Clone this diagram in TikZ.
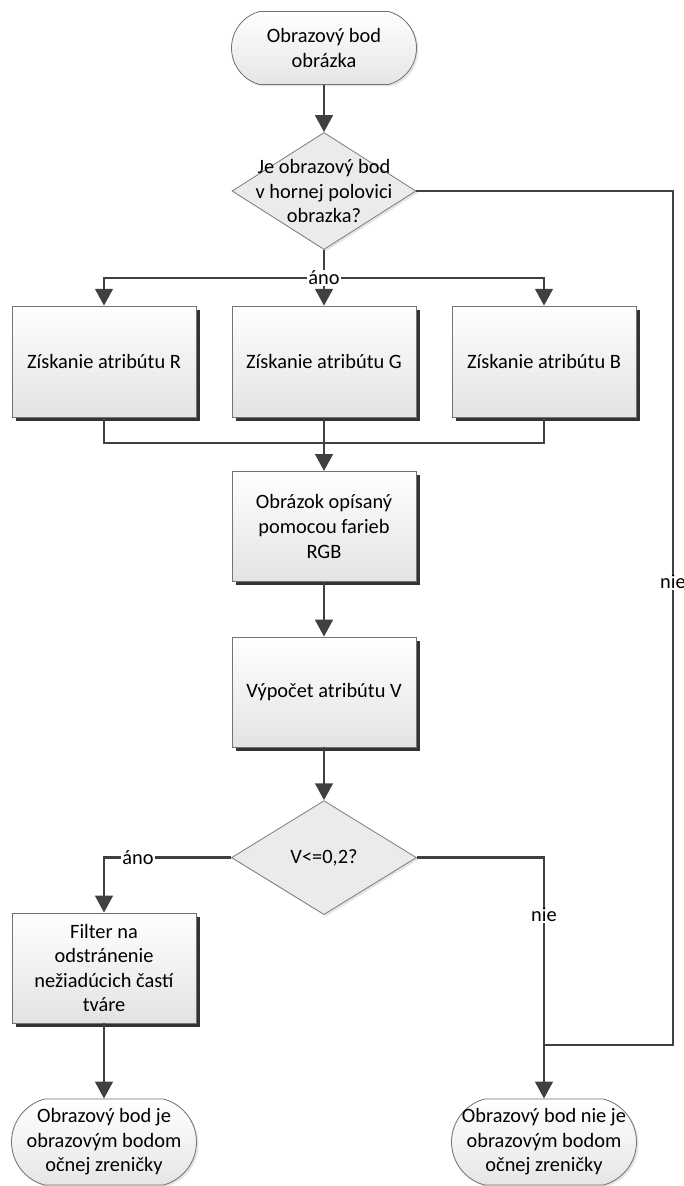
\documentclass[tikz,border=0pt]{standalone}
\usepackage{fontspec}
\setmainfont{Carlito}
\usetikzlibrary{shapes.geometric,shapes.misc,shadows,arrows.meta}

\begin{document}
\begin{tikzpicture}[font=\fontsize{14.5}{17.5}\selectfont,
    ciara/.style={draw=black!75, line width=1.85pt},
    sipka/.style={ciara, -{Triangle[length=12pt,width=12.5pt]}},
    blok/.style={rectangle, draw=black!55, line width=0.6pt, top color=white, bottom color=black!11,
      minimum width=4.6cm, minimum height=2.75cm, align=center, inner sep=2pt,
      drop shadow={shadow xshift=0.1cm, shadow yshift=-0.1cm, fill=black!80, opacity=1}},
    rozhod/.style={diamond, draw=black!50, line width=0.6pt, fill=black!8, inner sep=0pt,
      minimum width=4.6cm, minimum height=2.85cm,
      drop shadow={shadow xshift=0.05cm, shadow yshift=-0.05cm, fill=black!10, opacity=1}},
    terminal/.style={rounded rectangle, rounded rectangle arc length=150, draw=black!55, line width=0.6pt,
      top color=white, bottom color=black!10, inner sep=0pt, minimum width=4.625cm,
      drop shadow={shadow xshift=0.05cm, shadow yshift=-0.05cm, fill=black!10, opacity=1}},
    napis/.style={align=center, inner sep=0pt},
    popisok/.style={fill=white, inner sep=1pt}]
  \useasboundingbox (0,0) rectangle (17.075,-29.65);

  \node[terminal, minimum height=1.825cm] (start) at (8.1,-1.2) {};
  \node[napis] (startText) at (start) {Obrazový bod\\obrázka};
  \node[rozhod, minimum height=2.925cm] (otazka) at (8.1,-4.775) {};
  \node[napis] (otazkaText) at (otazka) {Je obrazový bod\\v hornej polovici\\obrazka?};
  \coordinate (rozdel) at (8.1,-6.95);
  \foreach \x/\c in {2.6/R,8.1/G,13.6/B}
    \node[blok, minimum height=2.775cm] (box\c) at (\x,-9.04) {Získanie atribútu \c};
  \coordinate (zluc) at (8.1,-11.075);
  \node[blok] (rgb) at (8.1,-13.16) {Obrázok opísaný\\pomocou farieb\\RGB};
  \node[blok] (vyp) at (8.1,-17.3) {Výpočet atribútu V};
  \node[rozhod, minimum width=4.625cm] (otazkaV) at (8.1,-21.44) {};
  \node[napis] (otazkaVText) at (otazkaV) {V<=0,2?};
  \node[blok] (filter) at (2.6,-24.2) {Filter na\\odstránenie\\nežiadúcich častí\\tváre};
  \node[terminal, minimum height=2.15cm] (koniecJe) at (2.6,-28.55) {};
  \node[napis] (koniecJeText) at (koniecJe) {Obrazový bod je\\obrazovým bodom\\očnej zreničky};
  \node[terminal, minimum height=2.15cm] (koniecNie) at (13.6,-28.55) {};
  \node[napis] (koniecNieText) at (koniecNie) {Obrazový bod nie je\\obrazovým bodom\\očnej zreničky};
  \coordinate (vpravo) at (16.825,-26.125);

  \draw[sipka] (start) -- (otazka);
  \draw[ciara] (otazka) -- (rozdel);
  \draw[sipka] (rozdel) -| (boxR);
  \draw[sipka] (rozdel) -| (boxB);
  \draw[sipka] (rozdel) -- (boxG);
  \node[popisok] (ano1) at (rozdel) {áno};
  \draw[ciara] (boxR) |- (zluc);
  \draw[ciara] (boxB) |- (zluc);
  \draw[sipka] (boxG) -- (rgb);
  \draw[sipka] (rgb) -- (vyp);
  \draw[sipka] (vyp) -- (otazkaV);
  \draw[sipka] (otazkaV) -| (filter);
  \node[popisok] (ano2) at (3.45,-21.44) {áno};
  \draw[sipka] (otazkaV) -| (koniecNie);
  \node[popisok] (nie2) at (13.6,-22.875) {nie};
  \draw[sipka] (filter) -- (koniecJe);
  \draw[ciara] (otazka) -| (vpravo) -- (vpravo -| koniecNie);
  \node[popisok] (nie1) at (16.825,-14.55) {nie};
\end{tikzpicture}
\end{document}
